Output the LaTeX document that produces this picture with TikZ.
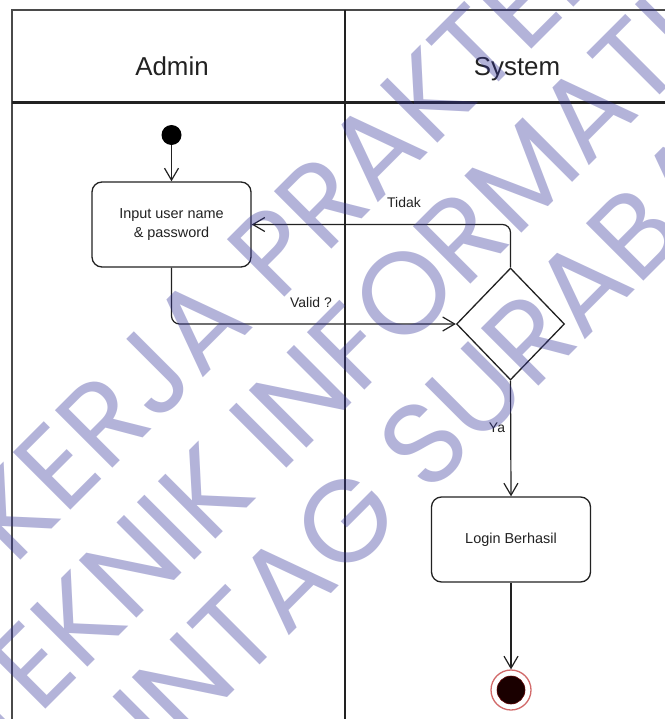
\documentclass[tikz,border=0pt]{standalone}
\usepackage{fontspec}
\setmainfont{Liberation Sans}
\newfontfamily\wmfont{Poppins}
\usetikzlibrary{arrows.meta,shapes.geometric}
\definecolor{ink}{HTML}{222222}
\definecolor{frame}{HTML}{4A4A4A}
\definecolor{wmblue}{HTML}{333399}
\definecolor{endring}{HTML}{D26A6A}
\definecolor{endcore}{HTML}{1A0000}
\tikzset{
  actbox/.style={draw=ink, line width=1.3bp, rounded corners=10bp,
    minimum width=159bp, minimum height=85bp, inner sep=0pt, align=center,
    font=\fontsize{14.5}{19}\selectfont, text=ink},
  decision/.style={diamond, draw=ink, line width=1.3bp, inner sep=0pt,
    minimum width=108bp, minimum height=112bp},
  flow/.style={draw=ink, line width=1.2bp, rounded corners=8bp,
    -{Straight Barb[length=12bp,width=14bp]}},
  guard/.style={font=\fontsize{14}{16}\selectfont, text=ink},
  lanehead/.style={anchor=base, font=\fontsize{26}{30}\selectfont, text=ink},
  watermark/.style={rotate=45, anchor=base, text=wmblue, text opacity=0.37,
    font=\wmfont\fontsize{117}{117}\selectfont},
}
\begin{document}
\begin{tikzpicture}[x=1bp, y=-1bp]
  \useasboundingbox (0,0) rectangle (665,719);
  \fill[white] (0,0) rectangle (665,719);
  \clip (0,0) rectangle (665,719);

  % swimlane frame
  \draw[frame, line width=1.5bp] (12,719) -- (12,10) -- (665,10);
  \draw[ink, line width=2.4bp] (12,102.5) -- (665,102.5);
  \draw[ink, line width=2bp] (344.5,10) -- (344.5,719);
  \node[lanehead] (hadmin) at (172,76) {Admin};
  \node[lanehead] (hsystem) at (517,76) {System};

  % activity nodes
  \node[circle, fill=black, minimum size=20bp, inner sep=0pt] (init) at (171.5,135) {};
  \node[actbox] (input) at (171.5,224.5) {Input user name\\\& password};
  \node[decision] (decide) at (510.5,324) {};
  \node[actbox] (login) at (511,539.5) {Login Berhasil};
  \node[circle, draw=endring, line width=1.3bp, fill=white, minimum size=40bp,
    inner sep=0pt] (final) at (511,690) {};
  \node[circle, fill=endcore, draw=endcore!70!red, line width=0.6bp,
    minimum size=28bp, inner sep=0pt] (finalcore) at (final.center) {};

  % control flow
  \draw[flow] (init) -- (input);
  \draw[flow] (input.south) |- (decide.west);
  \draw[flow] (decide.north) |- (input.east);
  \draw[flow] (decide.south) -- (login.north);
  \draw[flow] (login.south) -- (final.north);

  % guards
  \node[guard] (gvalid) at (311,303) {Valid ?};
  \node[guard] (gtidak) at (404,203) {Tidak};
  \node[guard] (gya) at (497,428) {Ya};

  % diagonal watermark
  \node[watermark] (wm1) at (316,265) {KERJA PRAKTEK};
  \node[watermark] (wm2) at (403,352) {TEKNIK INFORMATIKA};
  \node[watermark] (wm3) at (488,437) {UNTAG SURABAYA};
\end{tikzpicture}
\end{document}
